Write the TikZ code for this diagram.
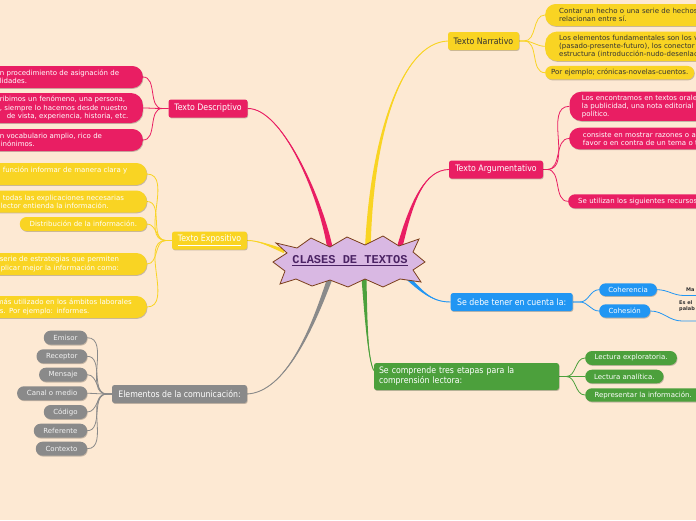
\documentclass[tikz,border=0pt]{standalone}
\usepackage{fontspec}
\usetikzlibrary{calc,shadows}
\newfontfamily\subf{DejaVu Sans}
\newfontfamily\mainf[FakeStretch=0.88]{DejaVu Sans}
\newfontfamily\ctrf{Liberation Mono}
\definecolor{bgc}{RGB}{253,233,211}
\definecolor{pinkc}{RGB}{233,30,99}
\definecolor{yellowc}{RGB}{249,212,35}
\definecolor{grayc}{RGB}{138,138,138}
\definecolor{bluec}{RGB}{33,150,243}
\definecolor{greenc}{RGB}{76,160,60}
\definecolor{darkt}{RGB}{51,51,51}
\definecolor{ctrfill}{RGB}{217,184,227}
\definecolor{ctrline}{RGB}{123,63,28}
\definecolor{ctrtext}{RGB}{75,35,100}
\definecolor{pilltxt}{RGB}{242,242,242}
\pgfdeclarelayer{background}
\pgfsetlayers{background,main}
\newcommand\ind{\hspace*{30pt}}
\newcommand\taperbr[6]{%
  \fill[#1] ($(#2)+#6$) .. controls ($(#3)+0.5*#6$) and (#4) .. (#5) .. controls (#4) and ($(#3)-0.5*#6$) .. ($(#2)-#6$) -- cycle;
  \draw[#1,line width=0.9pt] (#2) .. controls (#3) and (#4) .. (#5);}
\begin{document}
\begin{tikzpicture}[x=1pt,y=-1pt,
  conn/.style={line width=0.8pt},
  shad/.style={drop shadow={shadow xshift=0.6pt,shadow yshift=-0.9pt,opacity=0.22,fill=black}},
  mainbox/.style={shad,rounded corners=2.5pt,inner xsep=5pt,inner ysep=0pt,minimum height=18pt,
    font=\mainf\fontsize{8.9}{10}\selectfont},
  pill/.style={shad,inner ysep=0pt,font=\subf\fontsize{7}{8.2}\selectfont},
  lcut/.style={pill,anchor=east,inner xsep=6pt,align=left},
  rcut/.style={pill,anchor=west,align=left,text width=200pt},
  gpill/.style={pill,anchor=east,fill=grayc,text=pilltxt,rounded corners=6.8pt,minimum height=14pt,inner xsep=2pt},
  tinyt/.style={inner sep=0pt,text=darkt,font=\subf\bfseries\fontsize{5}{6}\selectfont}]
\useasboundingbox (0,0) rectangle (696,520);

% ---------- main nodes ----------
\node[mainbox,fill=pinkc,text=white,minimum width=79pt] (desc) at (208,108.5) {Texto Descriptivo};
\node[mainbox,fill=yellowc,text=white,minimum width=75pt] (expo) at (209.5,240.5) {\underline{Texto Expositivo}};
\node[mainbox,fill=grayc,text=white,minimum width=135pt] (elem) at (179.5,394) {Elementos de la comunicación:};
\node[mainbox,fill=yellowc,text=darkt,minimum width=71pt] (narr) at (483.5,41) {Texto Narrativo};
\node[mainbox,fill=pinkc,text=white,minimum width=94pt] (argu) at (496,169.5) {Texto Argumentativo};
\node[mainbox,fill=bluec,text=white,minimum width=122pt] (tener) at (511.7,302) {Se debe tener en cuenta la:};
\node[mainbox,fill=greenc,text=white,minimum height=27pt,text width=175pt,align=left] (etapas) at (466.5,376.5) {Se comprende tres etapas para la\\comprensión lectora:};

% ---------- descriptivo ----------
\node[lcut,fill=pinkc,text=white,rounded corners=10.5pt,minimum height=22pt,text width=167pt] (d1) at (143,77) {\ind n procedimiento de asignación de\\\ind lidades.};
\node[lcut,fill=pinkc,text=white,rounded corners=12pt,minimum height=30pt,text width=167pt] (d2) at (143,108) {\ind ribimos un fenómeno, una persona,\\\ind , siempre lo hacemos desde nuestro\\\hspace*{37pt}de vista, experiencia, historia, etc.};
\node[lcut,fill=pinkc,text=white,rounded corners=10.5pt,minimum height=22pt,text width=167pt] (d3) at (143,140) {\ind n vocabulario amplio, rico de\\\hspace*{31pt}inónimos.};

% ---------- expositivo ----------
\node[lcut,fill=yellowc,text=white,rounded corners=10.5pt,minimum height=22pt,text width=168pt] (e1) at (147,174) {\ind función informar de manera clara y\\\mbox{}};
\node[lcut,fill=yellowc,text=white,rounded corners=10.5pt,minimum height=22pt,text width=170pt] (e2) at (147,201.5) {\ind\hspace*{2pt}todas las explicaciones necesarias\\\ind lector entienda la información.};
\node[pill,fill=yellowc,text=white,rounded corners=6.8pt,minimum height=14pt,minimum width=127pt,anchor=east] (e3) at (147,224) {Distribución de la información.};
\node[lcut,fill=yellowc,text=white,rounded corners=10.5pt,minimum height=22pt,text width=171pt] (e4) at (147,264) {\ind serie de estrategias que permiten\\\ind\hspace*{1pt}plicar mejor la información como:};
\node[lcut,fill=yellowc,text=white,rounded corners=10.5pt,minimum height=22pt,text width=171pt] (e5) at (147,307) {\hspace*{27pt}más utilizado en los ámbitos laborales\\\ind s. Por ejemplo: informes.};

% ---------- elementos ----------
\node[gpill,minimum width=43.3pt] (g1) at (87.3,337.7) {Emisor};
\node[gpill,minimum width=50.6pt] (g2) at (87.3,356.3) {Receptor};
\node[gpill,minimum width=48pt] (g3) at (87.3,374.7) {Mensaje};
\node[gpill,minimum width=70pt] (g4) at (87.3,393.3) {Canal o medio};
\node[gpill,minimum width=43.3pt] (g5) at (87.3,412) {Código};
\node[gpill,minimum width=53.3pt] (g6) at (87.3,430.7) {Referente};
\node[gpill,minimum width=51.3pt] (g7) at (87.3,448.7) {Contexto};

% ---------- narrativo ----------
\node[rcut,fill=yellowc,text=darkt,rounded corners=10.5pt,minimum height=22pt,inner xsep=14pt] (n1) at (545,15) {Contar un hecho o una serie de hechos\\relacionan entre sí.};
\node[rcut,fill=yellowc,text=darkt,rounded corners=12pt,minimum height=29.5pt,inner xsep=14pt] (n2) at (545,46.3) {Los elementos fundamentales son los v\\(pasado-presente-futuro), los conector\\estructura (introducción-nudo-desenlac};
\node[pill,anchor=west,fill=yellowc,text=darkt,rounded corners=6.7pt,minimum height=13.5pt,minimum width=149pt,inner xsep=2pt] (n3) at (545,72.7) {Por ejemplo; crónicas-novelas-cuentos.};

% ---------- argumentativo ----------
\node[rcut,fill=pinkc,text=white,rounded corners=12pt,minimum height=29.3pt,inner xsep=12.4pt] (a1) at (569.3,106.3) {Los encontramos en textos orale\\la publicidad, una nota editorial\\político.};
\node[rcut,fill=pinkc,text=white,rounded corners=10.5pt,minimum height=21.6pt,inner xsep=13.7pt] (a2) at (569,138.5) {consiste en mostrar razones o ar\\favor o en contra de un tema o t};
\node[rcut,fill=pinkc,text=white,rounded corners=6.8pt,minimum height=14pt,inner xsep=10pt] (a3) at (568,201.3) {Se utilizan los siguientes recursos};

% ---------- tener en cuenta ----------
\node[pill,anchor=west,fill=bluec,text=white,rounded corners=6.3pt,minimum height=12.7pt,minimum width=57.7pt,inner xsep=2pt] (coh) at (599,289.7) {Coherencia};
\node[pill,anchor=west,fill=bluec,text=white,rounded corners=6.6pt,minimum height=13.4pt,minimum width=51pt,inner xsep=2pt] (cohs) at (599,311) {Cohesión};
\node[tinyt,anchor=base west] (ma) at (686,291.5) {Ma};
\node[tinyt,anchor=base west,align=left] (esel) at (679,310) {Es el\\palab};

% ---------- etapas ----------
\node[pill,anchor=west,fill=greenc,text=white,rounded corners=6.8pt,minimum height=14pt,minimum width=91.7pt,inner xsep=2pt] (lex) at (585,358) {Lectura exploratoria.};
\node[pill,anchor=west,fill=greenc,text=white,rounded corners=6.8pt,minimum height=13.6pt,minimum width=78.3pt,inner xsep=2pt] (lan) at (585,376.5) {Lectura analítica.};
\node[rcut,fill=greenc,text=white,rounded corners=6.7pt,minimum height=13.4pt,inner xsep=9.3pt] (lrep) at (585,395) {Representar la información.};

% ---------- center ----------
\draw[fill=ctrfill,draw=ctrline,line width=0.8pt] (276,243) -- (297,248) -- (311,238) -- (330,247) -- (347,237) -- (365,245) -- (383,236) -- (399,246) -- (419,239) -- (413,252) -- (425,262) -- (413,270) -- (421,282) -- (400,279) -- (383,287) -- (365,279) -- (348,287) -- (330,280) -- (312,286) -- (296,279) -- (280,284) -- (285,271) -- (273,262) -- (287,253) -- cycle;
\node[inner sep=0pt,anchor=base,text=ctrtext,font=\ctrf\bfseries\fontsize{12}{14}\selectfont] (ct) at (350,263) {CLASES DE TEXTOS};
\draw[ctrtext,line width=1.2pt] ($(ct.base west)+(0,2.8)$) -- ($(ct.base east)+(0,2.8)$);

% named coordinates
\coordinate (dJ) at ($(desc.west)+(-6,0)$);
\coordinate (eJ) at ($(expo.west)+(-6,0)$);
\coordinate (gJ) at ($(elem.west)+(-5,0)$);
\coordinate (nJ) at ($(narr.east)+(5,0)$);
\coordinate (aJ) at ($(argu.east)+(4,0)$);
\coordinate (tJ) at ($(tener.east)+(7,0)$);
\coordinate (sJ) at ($(etapas.east)+(7,0)$);
\coordinate (maJ) at (684,295.5);
\coordinate (maE) at (700,295.5);
\coordinate (esJ) at (682,321);
\coordinate (esE) at (700,321);
\coordinate (sDesc) at (330,248);
\coordinate (sExpo) at (284,251);
\coordinate (sNarr) at (368,244);
\coordinate (sArgu) at (400,246);
\coordinate (sTener) at (398,268);
\coordinate (sEtapas) at (364,278);
\coordinate (sElem) at (330,278);
\coordinate (etIn) at ($(etapas.west)+(0,-6)$);

\begin{pgfonlayer}{background}
\fill[bgc] (0,0) rectangle (696,520);
% tapered branches
\taperbr{pinkc}{sDesc}{320,195}{282,108}{desc.east}{(2.8,0)}
\taperbr{yellowc}{sExpo}{268,245}{258,240.5}{expo.east}{(0,2.2)}
\taperbr{yellowc}{sNarr}{372,140}{400,43}{narr.west}{(2.8,0)}
\taperbr{pinkc}{sArgu}{412,200}{425,170}{argu.west}{(2.8,0)}
\taperbr{bluec}{sTener}{420,290}{430,302}{tener.west}{(2,-2)}
\taperbr{greenc}{sEtapas}{366,320}{368,360}{etIn}{(2.5,0)}
\taperbr{grayc}{sElem}{312,330}{285,392}{elem.east}{(2.8,0)}
% descriptivo
\foreach \n in {d1,d2,d3} \draw[pinkc,conn] (\n.east) to[out=0,in=180] (dJ) -- (desc.west);
% expositivo
\foreach \n in {e1,e2,e3,e4,e5} \draw[yellowc,conn] (\n.east) to[out=0,in=180] (eJ) -- (expo.west);
% elementos
\foreach \n in {g1,g2,g3,g4,g5,g6,g7} \draw[grayc,conn] (\n.east) to[out=0,in=180] (gJ) -- (elem.west);
% narrativo
\foreach \n in {n1,n2,n3} \draw[yellowc,conn] (narr.east) -- (nJ) to[out=0,in=180] (\n.west);
% argumentativo
\foreach \n in {a1,a2,a3} \draw[pinkc,conn] (argu.east) -- (aJ) to[out=0,in=180] (\n.west);
% tener
\foreach \n in {coh,cohs} \draw[bluec,conn] (tener.east) -- (tJ) to[out=0,in=180] (\n.west);
\draw[bluec,conn] (coh.east) to[out=0,in=180] (maJ) -- (maE);
\draw[bluec,conn] (cohs.east) to[out=0,in=180] (esJ) -- (esE);
% etapas
\foreach \n in {lex,lan,lrep} \draw[greenc,conn] (etapas.east) -- (sJ) to[out=0,in=180] (\n.west);
\end{pgfonlayer}
\end{tikzpicture}
\end{document}
